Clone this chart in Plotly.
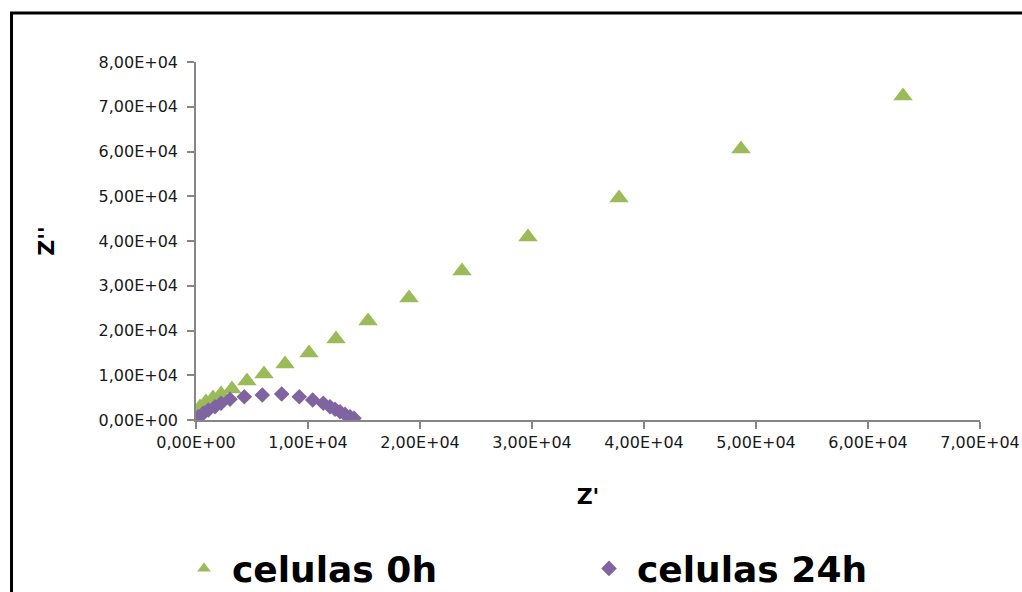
import plotly.graph_objects as go

# Data
z_real_0h = [63125, 48660, 37770, 29640, 23750, 19020, 15360, 12500, 10090, 7950,
             6070, 4550, 3210, 2230, 1520, 890, 360, 90, 20]
z_imag_0h = [72400, 60560, 49610, 40890, 33300, 27260, 22120, 18100, 14970, 12510,
             10280, 8720, 6930, 5810, 4920, 4020, 2900, 1560, 200]

z_real_24h = [20, 205, 652, 1098, 1696, 2232, 3036, 4313, 5920, 7652, 9223,
              10420, 11366, 11964, 12411, 12857, 13304, 13750, 14107]
z_imag_24h = [0, 737, 1497, 2235, 2972, 3732, 4626, 5207, 5587, 5810, 5207,
              4469, 3732, 2972, 2391, 1855, 1274, 737, 380]

x_tickvals = [0, 10000, 20000, 30000, 40000, 50000, 60000, 70000]
x_ticktext = ["0,00E+00", "1,00E+04", "2,00E+04", "3,00E+04", "4,00E+04",
              "5,00E+04", "6,00E+04", "7,00E+04"]
y_tickvals = [0, 10000, 20000, 30000, 40000, 50000, 60000, 70000, 80000]
y_ticktext = ["0,00E+00", "1,00E+04", "2,00E+04", "3,00E+04", "4,00E+04",
              "5,00E+04", "6,00E+04", "7,00E+04", "8,00E+04"]

fig = go.Figure()
fig.add_trace(go.Scatter(
    x=z_real_0h, y=z_imag_0h, mode="markers", name="celulas 0h",
    marker=dict(symbol="triangle-up", size=17, color="#9BBB59"),
))
fig.add_trace(go.Scatter(
    x=z_real_24h, y=z_imag_24h, mode="markers", name="celulas 24h",
    marker=dict(symbol="diamond", size=12, color="#8064A2"),
))

tick_font = dict(family="DejaVu Sans", size=16, color="#1a1a1a")
axis_common = dict(
    showline=True, linecolor="#868686", linewidth=1.5,
    ticks="outside", ticklen=7, tickcolor="#868686", tickwidth=1.5,
    showgrid=False, zeroline=False, tickfont=tick_font, tickmode="array",
    automargin=False,
)

fig.update_xaxes(range=[0, 70000], tickvals=x_tickvals, ticktext=x_ticktext,
                 ticklabelstandoff=0,
                 title=dict(text="<b>Z'</b>", font=dict(family="DejaVu Sans", size=22, color="#000"),
                            standoff=38),
                 **axis_common)
fig.update_yaxes(range=[0, 80000], tickvals=y_tickvals, ticktext=y_ticktext,
                 ticklabelstandoff=6,
                 title=dict(text="<b>Z''</b>", font=dict(family="DejaVu Sans", size=22, color="#000"),
                            standoff=38),
                 **axis_common)

fig.update_layout(
    width=1022, height=592,
    margin=dict(l=196, r=42, t=62, b=172, autoexpand=False),
    paper_bgcolor="white", plot_bgcolor="white",
    showlegend=True,
    legend=dict(
        orientation="h", x=-0.0255, xanchor="left", y=-0.331, yanchor="top",
        font=dict(family="DejaVu Sans", size=36, color="#000", weight="bold"),
        entrywidth=344, entrywidthmode="pixels", itemsizing="constant",
        itemwidth=46,
    ),
    shapes=[dict(type="rect", xref="paper", yref="paper",
                 x0=-0.2353, y0=-0.8, x1=1.2, y1=1.1369,
                 line=dict(color="black", width=3), layer="below")],
)

fig.write_html("out.html")
